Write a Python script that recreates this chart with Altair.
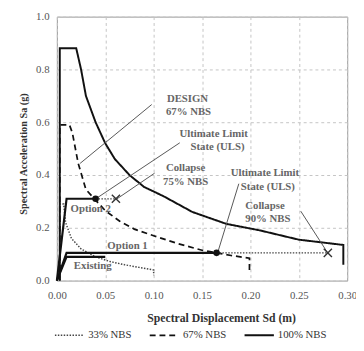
import altair as alt
import pandas as pd

# ---- spectra (x = Sd in m, y = Sa in g) ----
s100_x = [0.003, 0.003, 0.020, 0.025, 0.030, 0.040, 0.050, 0.060, 0.075, 0.090, 0.110, 0.140, 0.175, 0.210, 0.250, 0.296, 0.296]
s100_y = [0.0, 0.88, 0.88, 0.80, 0.70, 0.60, 0.52, 0.46, 0.40, 0.355, 0.32, 0.26, 0.215, 0.19, 0.155, 0.135, 0.06]
s67_x = [0.003, 0.003, 0.013, 0.016, 0.022, 0.030, 0.040, 0.050, 0.065, 0.080, 0.100, 0.125, 0.150, 0.165, 0.180, 0.199, 0.199]
s67_y = [0.0, 0.59, 0.59, 0.56, 0.445, 0.345, 0.305, 0.265, 0.225, 0.195, 0.17, 0.14, 0.115, 0.105, 0.095, 0.085, 0.03]
s33_x = [0.003, 0.003, 0.007, 0.009, 0.015, 0.025, 0.040, 0.055, 0.070, 0.085, 0.100, 0.100]
s33_y = [0.0, 0.29, 0.29, 0.22, 0.16, 0.12, 0.09, 0.072, 0.06, 0.05, 0.04, 0.02]
series_names = ["33% NBS", "67% NBS", "100% NBS"]

# ---- capacity curves ----
existing_x = [0.0, 0.01, 0.05]
existing_y = [0.0, 0.09, 0.09]
opt1_x = [0.0, 0.01, 0.165]
opt1_y = [0.0, 0.105, 0.105]
opt2_x = [0.0, 0.01, 0.04]
opt2_y = [0.0, 0.31, 0.31]
# dotted extensions to collapse
ext_x = [0.04, 0.061, 0.165, 0.28]
ext_y = [0.31, 0.31, 0.105, 0.105]
ext_id = ["o2", "o2", "o1", "o1"]

# performance points
uls_x = [0.04, 0.165]
uls_y = [0.31, 0.105]
col_x = [0.061, 0.28]
col_y = [0.31, 0.105]

# annotation leader lines
lead_x = [0.098, 0.127, 0.101, 0.188, 0.252]
lead_y = [0.667, 0.522, 0.407, 0.367, 0.263]
lead_x2 = [0.024, 0.039, 0.061, 0.166, 0.280]
lead_y2 = [0.444, 0.307, 0.307, 0.104, 0.104]

# annotation texts
ann_text = ["DESIGN", "67% NBS", "Ultimate Limit", "State (ULS)", "Collapse", "75% NBS",
            "Ultimate Limit", "State (ULS)", "Collapse", "90% NBS", "Option 2", "Option 1", "Existing"]
ann_x = [0.135, 0.136, 0.162, 0.166, 0.133, 0.133, 0.215, 0.218, 0.215, 0.218, 0.035, 0.073, 0.037]
ann_y = [0.689, 0.637, 0.556, 0.504, 0.426, 0.374, 0.407, 0.356, 0.281, 0.233, 0.27, 0.13, 0.056]

FONT = "Liberation Serif"

rows = []
for name, xs, ys in zip(series_names, [s33_x, s67_x, s100_x], [s33_y, s67_y, s100_y]):
    for i, (a, b) in enumerate(zip(xs, ys)):
        rows.append({"series": name, "i": i, "x": a, "y": b})
spec_df = pd.DataFrame(rows)

cap_rows = []
for name, xs, ys in [("existing", existing_x, existing_y), ("opt1", opt1_x, opt1_y), ("opt2", opt2_x, opt2_y)]:
    for i, (a, b) in enumerate(zip(xs, ys)):
        cap_rows.append({"cid": name, "i": i, "x": a, "y": b})
cap_df = pd.DataFrame(cap_rows)

ext_df = pd.DataFrame({"x": ext_x, "y": ext_y, "cid": ext_id})
uls_df = pd.DataFrame({"x": uls_x, "y": uls_y})
col_df = pd.DataFrame({"x": col_x, "y": col_y})
lead_df = pd.DataFrame({"x": lead_x, "y": lead_y, "x2": lead_x2, "y2": lead_y2})
ann_df = pd.DataFrame({"t": ann_text, "x": ann_x, "y": ann_y})

xscale = alt.Scale(domain=[0, 0.30], nice=False, zero=False)
yscale = alt.Scale(domain=[0, 1.0], nice=False)

xaxis = alt.Axis(values=[0, 0.05, 0.10, 0.15, 0.20, 0.25, 0.30], format=".2f",
                 title="Spectral Displacement Sd (m)", titleX=168, titlePadding=13,
                 titleFontSize=12, labelPadding=9)
yaxis = alt.Axis(values=[0, 0.2, 0.4, 0.6, 0.8, 1.0], format=".1f",
                 title="Spectral Acceleration Sa (g)", titlePadding=7, titleFontSize=10.5,
                 titleY=140)

X = alt.X("x:Q", scale=xscale, axis=xaxis)
Y = alt.Y("y:Q", scale=yscale, axis=yaxis)

leg = alt.Legend(title=None, orient="none", legendX=-3, legendY=310, direction="horizontal",
                 symbolType="stroke", symbolSize=900, labelFont=FONT, labelFontSize=11,
                 labelColor="#333", columnPadding=14, labelOffset=3)

spectra = alt.Chart(spec_df).mark_line().encode(
    x=X, y=Y, order="i:Q",
    strokeDash=alt.StrokeDash("series:N", scale=alt.Scale(domain=series_names,
                              range=[[1.5, 1.5], [6, 4], [1, 0]]), legend=leg),
    color=alt.Color("series:N", scale=alt.Scale(domain=series_names,
                    range=["#444444", "#111111", "#111111"]), legend=leg),
    strokeWidth=alt.StrokeWidth("series:N", scale=alt.Scale(domain=series_names,
                    range=[1.5, 2.0, 2.0]), legend=leg),
)

caps = alt.Chart(cap_df).mark_line(color="#111111", strokeWidth=2.2).encode(
    x="x:Q", y="y:Q", detail="cid:N", order="i:Q")

ext = alt.Chart(ext_df).mark_line(color="#444444", strokeWidth=1.3, strokeDash=[1.5, 1.5]).encode(
    x="x:Q", y="y:Q", detail="cid:N")

leads = alt.Chart(lead_df).mark_rule(color="#555555", strokeWidth=1).encode(
    x="x:Q", y="y:Q", x2="x2:Q", y2="y2:Q")

uls = alt.Chart(uls_df).mark_point(filled=True, color="#111111", size=45, opacity=1).encode(
    x="x:Q", y="y:Q")

col = alt.Chart(col_df).mark_point(shape="M-1,-1L1,1M-1,1L1,-1", filled=False, color="#333333",
                                    size=70, strokeWidth=1.4, opacity=1).encode(x="x:Q", y="y:Q")

texts = alt.Chart(ann_df).mark_text(font=FONT, fontSize=11, fontWeight="bold", color="#666666").encode(
    x="x:Q", y="y:Q", text="t:N")

chart = alt.layer(spectra, caps, ext, leads, uls, col, texts).properties(
    width=297, height=270,
    autosize=alt.AutoSizeParams(type="none"),
    padding={"left": 50, "top": 5, "right": 9, "bottom": 60},
).configure_view(stroke="#999999", strokeWidth=1).configure_axis(
    labelFont=FONT, labelFontSize=11, labelColor="#555555", titleFont=FONT, titleFontWeight="bold",
    titleColor="#333333", ticks=False, labelPadding=8, domain=False, labelFlush=False,
    gridColor="#c4c4c4", gridDash=[3, 3], gridWidth=1,
)

chart.save("out.html", embed_options={"renderer": "svg", "actions": False})
